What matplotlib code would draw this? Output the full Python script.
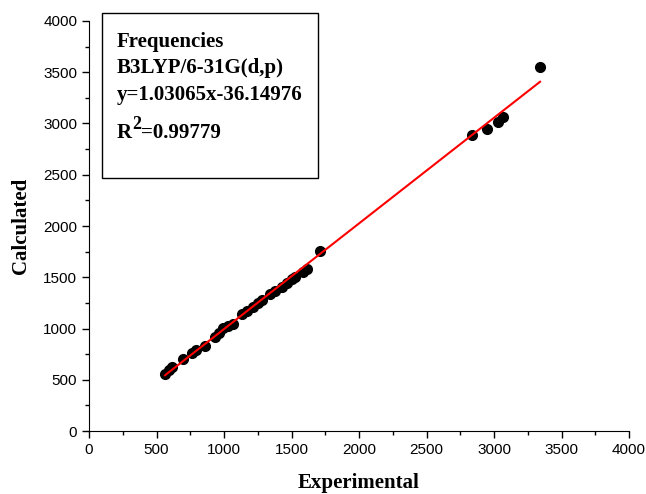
import numpy as np
import matplotlib.pyplot as plt
from matplotlib.patches import Rectangle
from matplotlib.ticker import MultipleLocator

# frequencies (cm-1)
experimental = [563, 593, 615, 696, 763, 793, 859, 933, 963, 993, 1030, 1067,
                1133, 1170, 1215, 1252, 1281, 1341, 1378, 1430, 1467, 1504,
                1526, 1585, 1615, 1711, 2837, 2948, 3030, 3067, 3341]
calculated = [556, 595, 624, 702, 761, 790, 829, 917, 956, 1005, 1024, 1044,
              1141, 1171, 1210, 1249, 1278, 1337, 1366, 1405, 1444, 1483,
              1502, 1551, 1580, 1756, 2888, 2946, 3015, 3063, 3551]
slope, intercept = 1.03065, -36.14976

serif = 'Liberation Serif'

fig = plt.figure(figsize=(6.46, 4.94), dpi=100)
ax = fig.add_axes([0.1378, 0.1275, 0.8359, 0.83])

ax.plot(experimental, calculated, 'o', color='black', ms=7, zorder=2)
xf = np.array([min(experimental), max(experimental)])
ax.plot(xf, slope*xf + intercept, color='red', lw=1.5, zorder=3)

ax.set_xlim(0, 4000)
ax.set_ylim(0, 4000)
ax.xaxis.set_major_locator(MultipleLocator(500))
ax.yaxis.set_major_locator(MultipleLocator(500))
ax.xaxis.set_minor_locator(MultipleLocator(250))
ax.yaxis.set_minor_locator(MultipleLocator(250))
ax.spines['top'].set_visible(False)
ax.spines['right'].set_visible(False)
ax.tick_params(which='major', direction='out', length=5, width=1,
               labelsize=11, labelfontfamily='Liberation Sans')
ax.tick_params(which='minor', direction='out', length=3, width=1)

ax.set_xlabel('Experimental', family=serif, weight='bold', fontsize=15, labelpad=11.5)
ax.set_ylabel('Calculated', family=serif, weight='bold', fontsize=15, labelpad=9)

fig.patches.append(Rectangle((0.158, 0.6397), 0.334, 0.334, transform=fig.transFigure,
                             fill=False, edgecolor='black', lw=1))
lines = ['Frequencies', 'B3LYP/6-31G(d,p)', 'y=1.03065x-36.14976']
base_px = [47, 73, 100]
for s, py in zip(lines, base_px):
    fig.text(117/646, 1 - py/494, s, family=serif, weight='bold', fontsize=15,
             va='baseline', ha='left')

# R^2 line, built from pieces so the superscript stays large
renderer = fig.canvas.get_renderer()
x0 = 117
r = fig.text(x0/646, 1 - 138/494, 'R', family=serif, weight='bold', fontsize=15,
             va='baseline', ha='left')
x0 += r.get_window_extent(renderer).width
two = fig.text(x0/646, 1 - 129/494, '2', family=serif, weight='bold', fontsize=13,
               va='baseline', ha='left')
x0 += two.get_window_extent(renderer).width
fig.text(x0/646, 1 - 138/494, '=0.99779', family=serif, weight='bold', fontsize=15,
         va='baseline', ha='left')

fig.savefig('out.png', dpi=100)
